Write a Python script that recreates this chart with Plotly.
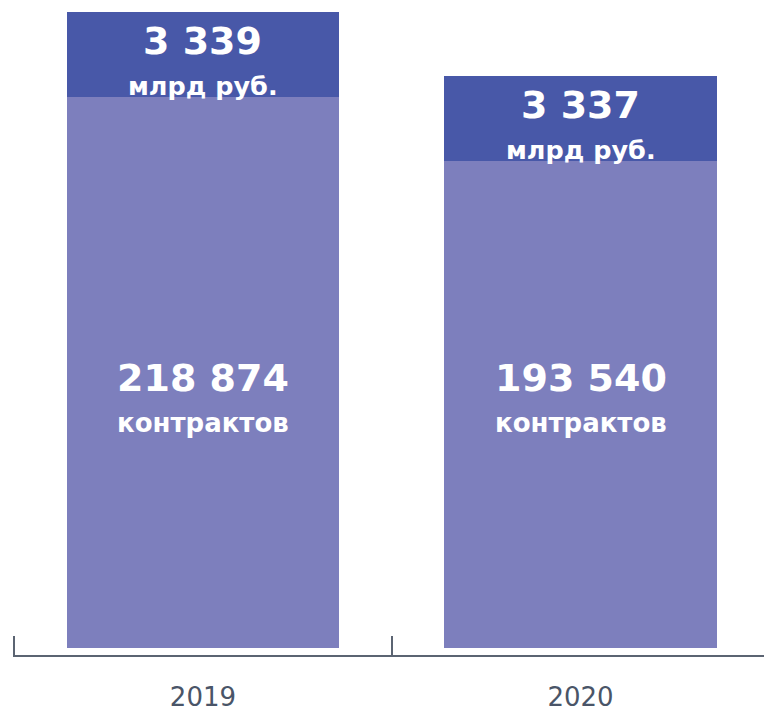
import plotly.graph_objects as go

years = ["2019", "2020"]
contracts = [218874, 193540]
money_bln = [3339, 3337]
contracts_labels = ["218 874", "193 540"]
money_labels = ["3 339", "3 337"]

# visual height of the money segment (drawn same size for both bars)
MONEY_SEG = 33700

C_BOTTOM = "#7d7fbd"
C_TOP = "#4858a8"
FONT = "DejaVu Sans"

fig = go.Figure()
fig.add_bar(x=years, y=contracts, marker=dict(color=C_BOTTOM, line=dict(width=0)),
            width=0.722, hoverinfo="skip")
fig.add_bar(x=years, y=[MONEY_SEG for _ in money_bln], marker=dict(color=C_TOP, line=dict(width=0)),
            width=0.722, hoverinfo="skip")

anns = []
for i, yr in enumerate(years):
    total = contracts[i] + MONEY_SEG
    anns.append(dict(x=i, y=total, xref="x", yref="y", text="<b>%s</b>" % money_labels[i],
                     showarrow=False, yanchor="middle", yshift=-29,
                     font=dict(family=FONT, size=38, color="white")))
    anns.append(dict(x=i, y=total, xref="x", yref="y", text="<b>млрд руб.</b>",
                     showarrow=False, yanchor="middle", yshift=-74,
                     font=dict(family=FONT, size=25.5, color="white")))
    anns.append(dict(x=i, y=0, xref="x", yref="y", text="<b>%s</b>" % contracts_labels[i],
                     showarrow=False, yanchor="middle", yshift=270,
                     font=dict(family=FONT, size=38, color="white")))
    anns.append(dict(x=i, y=0, xref="x", yref="y", text="<b>контрактов</b>",
                     showarrow=False, yanchor="middle", yshift=225,
                     font=dict(family=FONT, size=26, color="white")))

fig.update_layout(
    barmode="stack",
    width=764, height=711,
    margin=dict(l=13, r=0, t=0, b=56),
    paper_bgcolor="white", plot_bgcolor="white",
    showlegend=False,
    annotations=anns,
    xaxis=dict(
        type="category", range=[-0.503, 1.486],
        showline=True, linecolor="#5b6472", linewidth=2,
        ticks="inside", ticklen=19, tickwidth=2, tickcolor="#5b6472",
        tickson="boundaries",
        ticklabelstandoff=18,
        tickfont=dict(family=FONT, size=26, color="#4a5568"),
        showgrid=False, zeroline=False,
    ),
    yaxis=dict(range=[-2780, 257400], visible=False, showgrid=False, zeroline=False),
)

fig.write_html("out.html")
